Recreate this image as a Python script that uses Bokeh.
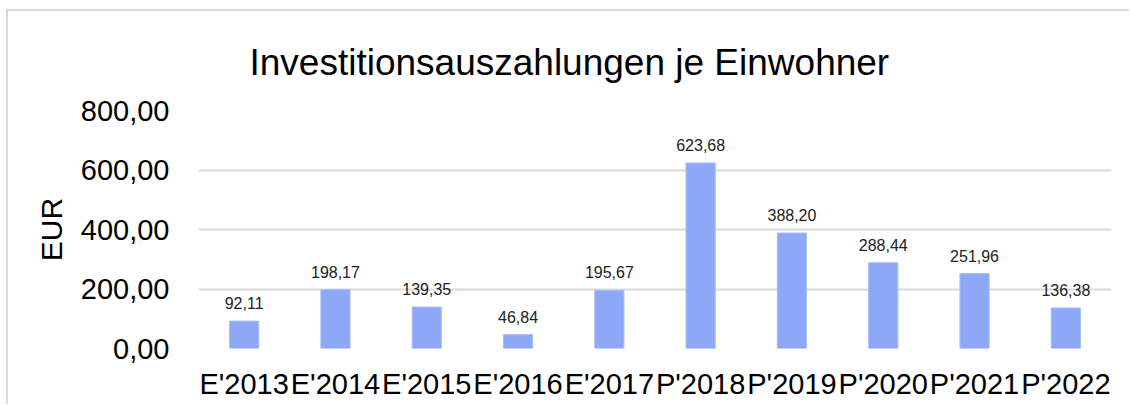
from bokeh.plotting import figure
from bokeh.models import ColumnDataSource, CustomJSTickFormatter, Range1d, FactorRange
from bokeh.core.properties import value
from bokeh.embed import file_html
from bokeh.resources import INLINE

categories = ["E'2013", "E'2014", "E'2015", "E'2016", "E'2017",
              "P'2018", "P'2019", "P'2020", "P'2021", "P'2022"]
values = [92.11, 198.17, 139.35, 46.84, 195.67, 623.68, 388.20, 288.44, 251.96, 136.38]
labels = [f"{v:.2f}".replace(".", ",") for v in values]
y_ticks = [0, 200, 400, 600, 800]

FONT = "Liberation Sans"
BAR = "#8EA8F8"

src = ColumnDataSource(dict(cat=categories, val=values, lab=labels))

p = figure(x_range=FactorRange(*categories, range_padding=0), y_range=Range1d(0, 800),
           width=1123, height=395, output_backend="svg", toolbar_location=None,
           min_border_left=190, min_border_right=20, min_border_top=97, min_border_bottom=58)
p.styles = {"border-top": "2px solid #d9d9d9", "border-left": "2px solid #d9d9d9",
            "margin-left": "6px", "margin-top": "9px"}

p.title.text = "Investitionsauszahlungen je Einwohner"
p.title.align = "left"
p.title.offset = 51
p.title.standoff = 56
p.title.text_font = FONT
p.title.text_font_size = "37px"
p.title.text_font_style = "normal"
p.title.text_color = "#000000"

p.vbar(x="cat", top="val", width=0.32, source=src, fill_color=BAR, line_color="#A9BDFA", line_width=1)
p.text(x="cat", y="val", text="lab", source=src, text_align="center", text_baseline="bottom",
       y_offset=-12, text_font=value(FONT), text_font_size="16px", text_color="#222222")

p.outline_line_color = None
p.xgrid.grid_line_color = None
p.ygrid.grid_line_color = "#d9d9d9"
p.ygrid.grid_line_width = 2

p.yaxis.ticker = y_ticks
p.yaxis.formatter = CustomJSTickFormatter(code="return tick.toFixed(2).replace('.', ',');")
p.yaxis.axis_label = "EUR"
p.yaxis.axis_label_text_font = FONT
p.yaxis.axis_label_text_font_size = "30px"
p.yaxis.axis_label_text_font_style = "normal"
p.yaxis.axis_label_text_color = "#000000"
p.yaxis.axis_label_standoff = 10

for ax in (p.xaxis, p.yaxis):
    ax.axis_line_color = None
    ax.major_tick_line_color = None
    ax.minor_tick_line_color = None
    ax.major_label_text_font = FONT
    ax.major_label_text_color = "#000000"
p.yaxis.major_label_text_font_size = "29px"
p.xaxis.major_label_text_font_size = "29px"
p.yaxis.major_label_standoff = 23
p.xaxis.major_label_standoff = 13

open("out.html", "w").write(file_html(p, INLINE))
